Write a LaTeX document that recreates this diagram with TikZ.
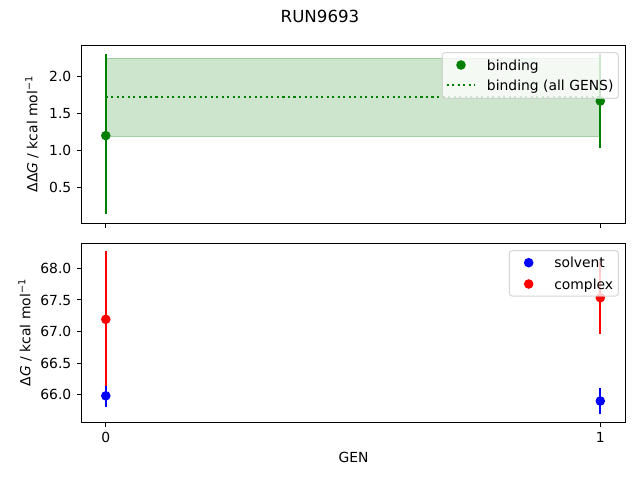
\documentclass[tikz,border=0pt]{standalone}
\usepackage{fontspec}
\setmainfont{DejaVu Sans}
\definecolor{mgreen}{HTML}{008000}
\definecolor{mblue}{HTML}{0000FF}
\definecolor{mred}{HTML}{FF0000}
\definecolor{legedge}{HTML}{CCCCCC}
\tikzset{
  spine/.style={line width=0.75pt, black},
  tickmark/.style={line width=0.75pt, black},
  ticklab/.style={font=\fontsize{10.42}{12}\selectfont, inner sep=0pt, text depth=0pt},
  axlab/.style={font=\fontsize{10.42}{12}\selectfont, inner sep=0pt},
  ebar/.style={line width=1.5625pt},
  dotmark/.style={radius=3.6pt},
  legbox/.style={draw=legedge, draw opacity=0.8, fill=white, fill opacity=0.8, line width=0.75pt, rounded corners=2.1pt},
  legtext/.style={font=\fontsize{10.42}{12}\selectfont, inner sep=0pt, anchor=west, text depth=0pt},
}
\begin{document}
\begin{tikzpicture}[x=0.75pt,y=-0.75pt]
\useasboundingbox (0,0) rectangle (640,480);
\fill[white] (0,0) rectangle (640,480);

% title
\node[font=\fontsize{12.5}{14}\selectfont, inner sep=0pt] (title) at (320,16.3) {RUN9693};

% ================= TOP AXES =================
% band
\fill[mgreen, fill opacity=0.2] (105.8,58.3) rectangle (600.3,136.7);
\draw[mgreen, draw opacity=0.2, line width=0.83pt] (105.8,58.3) rectangle (600.3,136.7);
% dotted mean line
\coordinate (m0) at (105.8,97);
\coordinate (m1) at (600.3,97);
\draw[mgreen, line width=1.5625pt, dash pattern=on 1.56pt off 2.58pt] (m0) -- (m1);
% error bars
\coordinate (b0t) at (105.8,54.3);
\coordinate (b0b) at (105.8,214.3);
\coordinate (b1t) at (600.3,53.7);
\coordinate (b1b) at (600.3,148.3);
\draw[ebar, mgreen] (b0t) -- (b0b);
\draw[ebar, mgreen] (b1t) -- (b1b);
\fill[mgreen] (105.8,135.6) circle[dotmark];
\fill[mgreen] (600.3,101) circle[dotmark];

% spines
\draw[spine] (81.5,45.5) rectangle (625.5,223.5);
% x ticks
\draw[tickmark] (105.8,223.5) -- (105.8,228.4);
\draw[tickmark] (600.3,223.5) -- (600.3,228.4);
% y ticks
\foreach \yy/\lab in {76.2/2.0, 113.3/1.5, 150.4/1.0, 187.5/0.5}{
  \draw[tickmark] (81.5,\yy) -- (76.6,\yy);
  \node[ticklab, anchor=east] at (71.6,\yy) {\lab};
}
\node[axlab, rotate=90] (ylabtop) at (32,134) {ΔΔ\textit{G} / kcal mol\textsuperscript{−1}};

% legend top
\draw[legbox] (442.3,52.7) rectangle (618.3,98.3);
\fill[mgreen] (461,65) circle[dotmark];
\node[legtext] (lbind) at (486.7,65) {binding};
\coordinate (ld0) at (446.7,85);
\coordinate (ld1) at (474.5,85);
\draw[mgreen, line width=1.5625pt, dash pattern=on 1.56pt off 2.58pt] (ld0) -- (ld1);
\node[legtext] (lball) at (486.7,85) {binding (all GENS)};

% ================= BOTTOM AXES =================
% complex (red)
\coordinate (r0t) at (105.8,251);
\coordinate (r0b) at (105.8,387.6);
\coordinate (r1t) at (600.3,261.1);
\coordinate (r1b) at (600.3,334.3);
\draw[ebar, mred] (r0t) -- (r0b);
\draw[ebar, mred] (r1t) -- (r1b);
% solvent (blue)
\coordinate (s0t) at (105.8,385.8);
\coordinate (s0b) at (105.8,406.6);
\coordinate (s1t) at (600.3,388.3);
\coordinate (s1b) at (600.3,413.5);
\draw[ebar, mblue] (s0t) -- (s0b);
\draw[ebar, mblue] (s1t) -- (s1b);
\fill[mred] (105.8,319.3) circle[dotmark];
\fill[mred] (600.3,297.7) circle[dotmark];
\fill[mblue] (105.8,395.8) circle[dotmark];
\fill[mblue] (600.3,401) circle[dotmark];

% spines
\draw[spine] (81.5,243.5) rectangle (625.5,422.5);
% x ticks
\draw[tickmark] (105.8,422.5) -- (105.8,427.4);
\draw[tickmark] (600.3,422.5) -- (600.3,427.4);
\node[ticklab, anchor=north] (x0) at (105.8,432.2) {0};
\node[ticklab, anchor=north] (x1) at (600.3,432.2) {1};
% y ticks
\foreach \yy/\lab in {268.3/68.0, 299.9/67.5, 331.5/67.0, 363.1/66.5, 394.7/66.0}{
  \draw[tickmark] (81.5,\yy) -- (76.6,\yy);
  \node[ticklab, anchor=east] at (71.6,\yy) {\lab};
}
\node[axlab, rotate=90] (ylabbot) at (25,332.5) {Δ\textit{G} / kcal mol\textsuperscript{−1}};
\node[axlab] (xlab) at (353.5,457) {GEN};

% legend bottom
\draw[legbox] (509.3,250.7) rectangle (618.3,296);
\fill[mblue] (528.7,262.7) circle[dotmark];
\node[legtext] (lsolv) at (554,262.7) {solvent};
\fill[mred] (528.7,284) circle[dotmark];
\node[legtext] (lcomp) at (554,284) {complex};
\end{tikzpicture}
\end{document}
